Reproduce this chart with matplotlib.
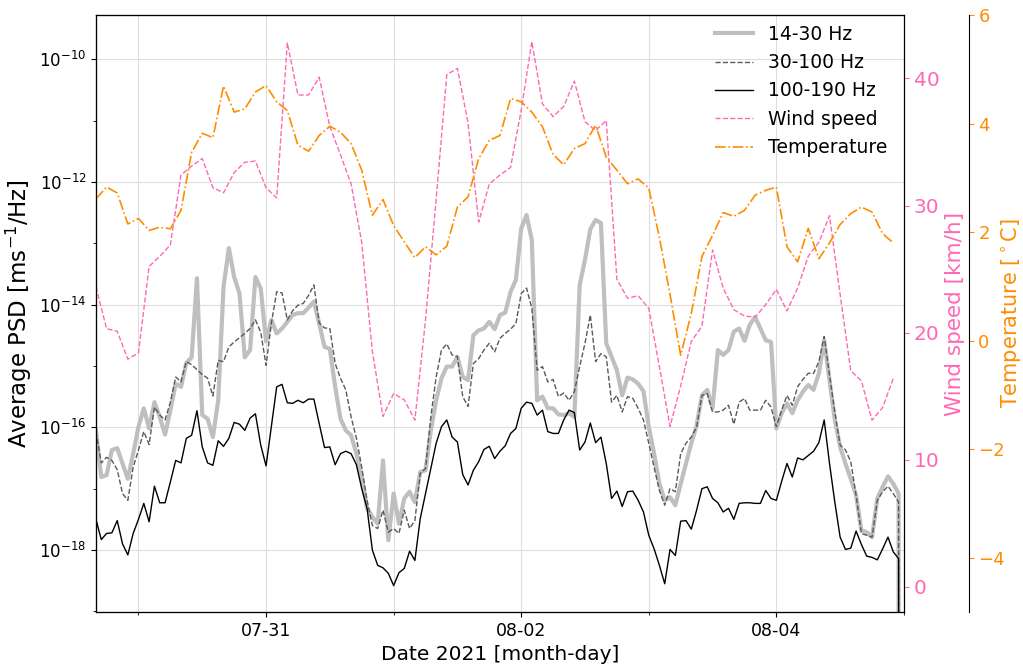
import numpy as np
import pandas as pd
import matplotlib
matplotlib.use("Agg")
import matplotlib.pyplot as plt
import matplotlib.dates as mdates
from matplotlib.ticker import NullFormatter, FixedLocator

# Hourly band-averaged PSD (log10 of ms^-1/Hz), starting 2021-07-29 16:00
psd_14_30_log = [
    -16.05, -16.81, -16.78, -16.37, -16.34, -16.59, -16.84, -16.43, -15.99, -15.69,
    -16.02, -15.59, -15.83, -16.12, -15.72, -15.29, -15.34, -14.95, -14.86, -13.57,
    -15.80, -15.86, -16.16, -15.56, -13.71, -13.08, -13.55, -13.82, -14.86, -14.74,
    -13.55, -13.74, -14.60, -14.25, -14.47, -14.39, -14.28, -14.17, -14.14, -14.14,
    -14.05, -13.95, -14.31, -14.69, -14.72, -15.34, -15.86, -16.05, -16.13, -16.43,
    -16.81, -17.32, -17.46, -17.57, -16.54, -17.84, -17.08, -17.57, -17.16, -17.05,
    -17.22, -16.73, -16.70, -16.05, -15.56, -15.20, -15.01, -15.01, -14.85, -15.18,
    -15.23, -14.50, -14.42, -14.39, -14.28, -14.40, -14.17, -14.13, -13.79, -13.60,
    -12.76, -12.54, -12.95, -15.56, -15.50, -15.69, -15.69, -15.79, -15.80, -15.77,
    -15.83, -13.68, -13.27, -12.77, -12.62, -12.67, -14.63, -14.85, -15.07, -15.48,
    -15.19, -15.22, -15.29, -15.41, -15.99, -16.43, -16.92, -17.19, -17.14, -17.27,
    -16.92, -16.59, -16.26, -15.97, -15.48, -15.39, -15.69, -14.74, -14.82, -14.74,
    -14.44, -14.39, -14.59, -14.33, -14.20, -14.39, -14.58, -14.61, -16.02, -15.77,
    -15.61, -15.77, -15.56, -15.42, -15.31, -15.39, -15.12, -14.58, -15.23, -15.88,
    -16.32, -16.59, -16.84, -17.11, -17.68, -17.71, -17.79, -17.16, -16.97, -16.80,
    -16.92, -17.08,
]
psd_30_100_log = [
    -16.07, -16.58, -16.49, -16.54, -16.69, -17.08, -17.19, -16.65, -16.37, -16.07,
    -16.28, -15.67, -15.80, -15.88, -15.59, -15.18, -15.26, -14.93, -14.98, -15.06,
    -15.14, -15.20, -15.49, -14.91, -14.93, -14.69, -14.61, -14.54, -14.47, -14.39,
    -14.25, -14.45, -14.99, -14.30, -13.79, -13.81, -14.25, -14.10, -14.01, -13.98,
    -13.85, -13.68, -14.30, -14.38, -14.39, -14.96, -15.20, -15.39, -15.83, -16.18,
    -16.65, -17.19, -17.60, -17.65, -17.35, -17.71, -17.65, -17.73, -17.35, -17.65,
    -17.52, -16.75, -16.67, -15.83, -15.18, -14.74, -14.64, -14.82, -14.85, -15.50,
    -15.66, -14.96, -14.88, -14.74, -14.63, -14.77, -14.55, -14.47, -14.40, -14.31,
    -13.82, -13.73, -14.06, -15.07, -15.01, -15.26, -15.22, -15.50, -15.44, -15.56,
    -15.42, -15.01, -14.63, -14.17, -14.93, -14.80, -14.85, -15.59, -15.48, -15.75,
    -15.50, -15.53, -15.69, -15.88, -16.26, -16.65, -17.03, -17.27, -17.00, -17.05,
    -16.43, -16.26, -16.16, -16.00, -15.48, -15.45, -15.75, -15.75, -15.72, -15.64,
    -15.95, -15.59, -15.53, -15.72, -15.72, -15.72, -15.56, -15.67, -15.99, -15.72,
    -15.48, -15.64, -15.34, -15.22, -15.12, -15.12, -14.93, -14.52, -15.15, -15.75,
    -16.29, -16.37, -16.56, -17.11, -17.73, -17.76, -17.79, -17.19, -17.05, -16.96,
    -17.08, -17.22,
]
psd_100_190_log = [
    -17.50, -17.83, -17.73, -17.72, -17.52, -17.90, -18.08, -17.73, -17.50, -17.24,
    -17.54, -16.96, -17.23, -17.23, -16.89, -16.54, -16.58, -16.18, -16.13, -15.73,
    -16.32, -16.58, -16.62, -16.22, -16.31, -16.18, -15.92, -15.95, -16.05, -15.85,
    -15.78, -16.29, -16.63, -15.99, -15.34, -15.30, -15.60, -15.61, -15.56, -15.60,
    -15.54, -15.54, -15.94, -16.33, -16.32, -16.61, -16.43, -16.39, -16.43, -16.61,
    -17.00, -17.32, -18.00, -18.25, -18.29, -18.38, -18.58, -18.37, -18.30, -18.02,
    -18.17, -17.49, -17.08, -16.67, -16.26, -15.99, -15.88, -16.16, -16.24, -16.77,
    -16.94, -16.70, -16.56, -16.36, -16.31, -16.51, -16.39, -16.30, -16.10, -16.02,
    -15.69, -15.59, -15.61, -15.80, -15.72, -16.07, -16.10, -16.10, -15.88, -15.72,
    -15.76, -16.37, -16.24, -15.93, -16.25, -16.16, -16.59, -17.16, -17.04, -17.29,
    -17.05, -17.04, -17.19, -17.38, -17.76, -17.98, -18.25, -18.55, -17.99, -18.09,
    -17.53, -17.52, -17.66, -17.35, -17.00, -16.97, -17.16, -17.23, -17.38, -17.32,
    -17.50, -17.24, -17.23, -17.23, -17.24, -17.24, -17.03, -17.16, -17.19, -16.88,
    -16.59, -16.81, -16.50, -16.53, -16.46, -16.39, -16.25, -15.88, -16.59, -17.22,
    -17.79, -17.99, -17.97, -17.69, -17.91, -18.10, -18.12, -18.16, -17.98, -17.79,
    -18.03, -18.14,
]

# Weather station, every 2 hours from 2021-07-29 16:00
wind_kmh = [
    23.6, 20.3, 20.1, 17.9, 18.4, 25.2, 26.0, 26.9, 32.4, 33.1,
    33.7, 31.4, 31.0, 32.6, 33.4, 33.5, 31.4, 30.6, 42.8, 38.7,
    38.7, 40.1, 36.2, 34.0, 31.7, 27.1, 18.5, 13.4, 15.2, 14.7,
    13.1, 21.0, 30.5, 40.3, 40.8, 36.5, 28.7, 31.7, 32.4, 33.0,
    37.5, 42.9, 38.0, 37.0, 37.8, 39.8, 36.6, 35.9, 36.7, 24.2,
    22.7, 22.9, 21.9, 17.3, 12.6, 15.8, 19.3, 20.5, 26.5, 23.5,
    21.8, 21.3, 21.2, 22.2, 23.4, 21.7, 23.5, 26.0, 27.1, 29.2,
    23.0, 17.0, 16.2, 13.1, 14.1, 16.4,
]
temp_c = [
    2.61, 2.83, 2.72, 2.15, 2.25, 2.03, 2.09, 2.06, 2.40, 3.47,
    3.82, 3.74, 4.69, 4.21, 4.27, 4.58, 4.70, 4.40, 4.24, 3.60,
    3.49, 3.78, 3.95, 3.84, 3.63, 3.14, 2.31, 2.60, 2.12, 1.82,
    1.53, 1.73, 1.58, 1.74, 2.46, 2.65, 3.35, 3.69, 3.78, 4.46,
    4.40, 4.21, 3.94, 3.43, 3.24, 3.54, 3.63, 3.97, 3.38, 3.14,
    2.89, 2.98, 2.81, 1.90, 0.85, -0.27, 0.50, 1.55, 1.94, 2.36,
    2.29, 2.40, 2.68, 2.77, 2.83, 1.73, 1.45, 2.07, 1.51, 1.80,
    2.14, 2.34, 2.46, 2.37, 1.97, 1.80,
]

labelled_days = ["2021-07-31", "2021-08-02", "2021-08-04"]

t_psd = pd.date_range("2021-07-29 16:00", periods=len(psd_14_30_log) + 1, freq="h")
t_met = pd.date_range("2021-07-29 16:00", periods=len(wind_kmh), freq="2h")


def to_psd(logs):
    # the final hour is empty, so it is stored as zero power
    return np.append(10.0 ** np.array(logs), 0.0)


fig = plt.figure(figsize=(10.23, 6.66), dpi=100)
ax = fig.add_axes([0.0938, 0.0811, 0.7898, 0.8964])

l1, = ax.plot(t_psd, to_psd(psd_14_30_log), color="0.75", lw=3, label="14-30 Hz")
l2, = ax.plot(t_psd, to_psd(psd_30_100_log), color="0.35", lw=1, ls="--", label="30-100 Hz")
l3, = ax.plot(t_psd, to_psd(psd_100_190_log), color="k", lw=1, label="100-190 Hz")
ax.set_yscale("log")
ax.set_ylim(10 ** -19.01, 10 ** -9.28)
ax.set_xlim(t_psd[0], t_psd[-1])
ax.set_yticks([1e-18, 1e-16, 1e-14, 1e-12, 1e-10])
ax.set_yticks([1e-19, 1e-17, 1e-15, 1e-13, 1e-11], minor=True)
ax.yaxis.set_minor_formatter(NullFormatter())
ax.xaxis.set_major_locator(FixedLocator(mdates.date2num(pd.to_datetime(labelled_days))))
ax.xaxis.set_minor_locator(mdates.DayLocator())
ax.xaxis.set_major_formatter(mdates.DateFormatter("%m-%d"))
ax.grid(True, which="both", axis="x", color="0.87", lw=0.8)
ax.grid(True, which="major", axis="y", color="0.87", lw=0.8)
ax.tick_params(axis="x", labelsize=12.5)
ax.tick_params(axis="y", labelsize=12)
ax.set_xlabel("Date 2021 [month-day]", fontsize=14.5)
ax.set_ylabel("Average PSD [ms$^{-1}$/Hz]", fontsize=16.5)

# wind speed on the first right axis
ax2 = ax.twinx()
l4, = ax2.plot(t_met, wind_kmh, color="hotpink", lw=1, ls="--", label="Wind speed")
ax2.set_ylim(-2, 45)
ax2.set_yticks([0, 10, 20, 30, 40])
ax2.tick_params(axis="y", colors="hotpink", labelsize=14.5)
ax2.set_ylabel("Wind speed [km/h]", color="hotpink", fontsize=15.5)

# temperature on an offset right axis
ax3 = ax.twinx()
ax3.spines["right"].set_position(("axes", 1.08))
l5, = ax3.plot(t_met, temp_c, color="darkorange", lw=1.2, ls="-.", label="Temperature")
ax3.set_ylim(-5, 6)
ax3.set_yticks([-4, -2, 0, 2, 4, 6])
ax3.tick_params(axis="y", colors="darkorange", labelsize=13)
ax3.set_ylabel("Temperature [$^\\circ$C]", color="darkorange", fontsize=15, labelpad=-4)

ax3.legend(handles=[l1, l2, l3, l4, l5], loc="upper right", frameon=False,
           fontsize=13.5, bbox_to_anchor=(1.0, 1.012))

fig.savefig("out.png", dpi=100)
